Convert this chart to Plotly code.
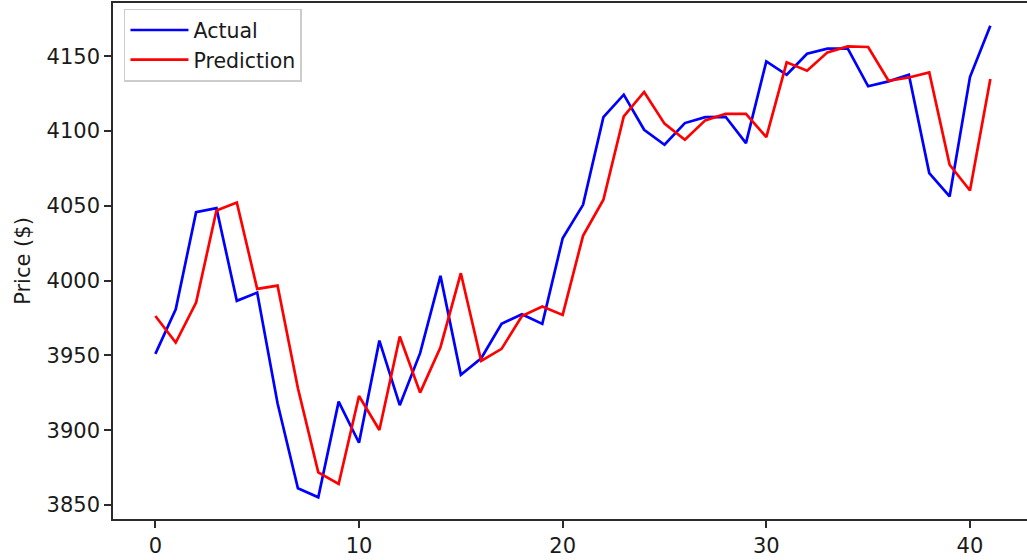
import plotly.graph_objects as go

# Day index along the test window
days = list(range(42))

# Observed closing prices
actual = [3951.0, 3980.9, 4045.8, 4048.5, 3986.5, 3992.0, 3918.0, 3861.1, 3855.1, 3919.1,
          3891.6, 3959.9, 3916.7, 3951.5, 4003.2, 3937.0, 3948.1, 3971.1, 3977.6, 3971.1,
          4028.4, 4050.7, 4109.4, 4124.4, 4100.9, 4090.9, 4105.4, 4109.4, 4109.6, 4092.0,
          4146.7, 4137.7, 4151.8, 4155.2, 4155.2, 4130.0, 4133.3, 4137.7, 4072.0, 4056.3,
          4136.2, 4170.5]

# Model output for the same days
prediction = [3976.4, 3958.6, 3985.3, 4046.9, 4052.3, 3994.5, 3996.7, 3928.0, 3871.8, 3864.0,
              3922.9, 3900.1, 3962.6, 3925.1, 3955.5, 4005.0, 3946.3, 3954.4, 3976.4, 3982.7,
              3977.1, 4030.0, 4054.1, 4109.8, 4126.2, 4105.0, 4094.2, 4107.2, 4111.6, 4111.6,
              4096.0, 4146.0, 4140.4, 4152.7, 4156.7, 4156.3, 4133.7, 4135.9, 4139.3, 4077.5,
              4060.3, 4134.9]

x_ticks = [0, 10, 20, 30, 40]
y_ticks = [3850, 3900, 3950, 4000, 4050, 4100, 4150]

FONT = "DejaVu Sans, Verdana, sans-serif"
AXIS_COLOR = "#2b2b2b"

fig = go.Figure()
fig.add_trace(go.Scatter(x=days, y=actual, mode="lines", name="Actual",
                         line=dict(color="#0000ff", width=2.7)))
fig.add_trace(go.Scatter(x=days, y=prediction, mode="lines", name="Prediction",
                         line=dict(color="#ff0000", width=2.7)))

fig.update_layout(
    width=1027, height=560,
    margin=dict(l=113, r=0, t=3, b=41),
    paper_bgcolor="white", plot_bgcolor="white",
    font=dict(family=FONT, size=21, color="#1a1a1a"),
    showlegend=True,
    legend=dict(
        x=0.012, y=0.989, xanchor="left", yanchor="top",
        bgcolor="rgba(255,255,255,0.85)", bordercolor="#cccccc", borderwidth=1.5,
        font=dict(family=FONT, size=20.5, color="#1a1a1a"),
        itemwidth=58, tracegroupgap=0,
    ),
    xaxis=dict(
        range=[-2.08, 42.8],
        tickvals=x_ticks, ticktext=[str(v) for v in x_ticks],
        showgrid=False, zeroline=False,
        showline=True, linecolor=AXIS_COLOR, linewidth=1.5, mirror=True,
        ticks="outside", ticklen=7, tickwidth=1.5, tickcolor=AXIS_COLOR,
        tickfont=dict(size=21),
    ),
    yaxis=dict(
        range=[3840.6, 4185.7],
        tickvals=y_ticks, ticktext=[str(v) for v in y_ticks],
        showgrid=False, zeroline=False,
        showline=True, linecolor=AXIS_COLOR, linewidth=1.5, mirror=False,
        ticks="outside", ticklen=7, tickwidth=1.5, tickcolor=AXIS_COLOR,
        tickfont=dict(size=21),
        title=dict(text="Price ($)", font=dict(size=21), standoff=10),
    ),
)

fig.write_html("out.html")
